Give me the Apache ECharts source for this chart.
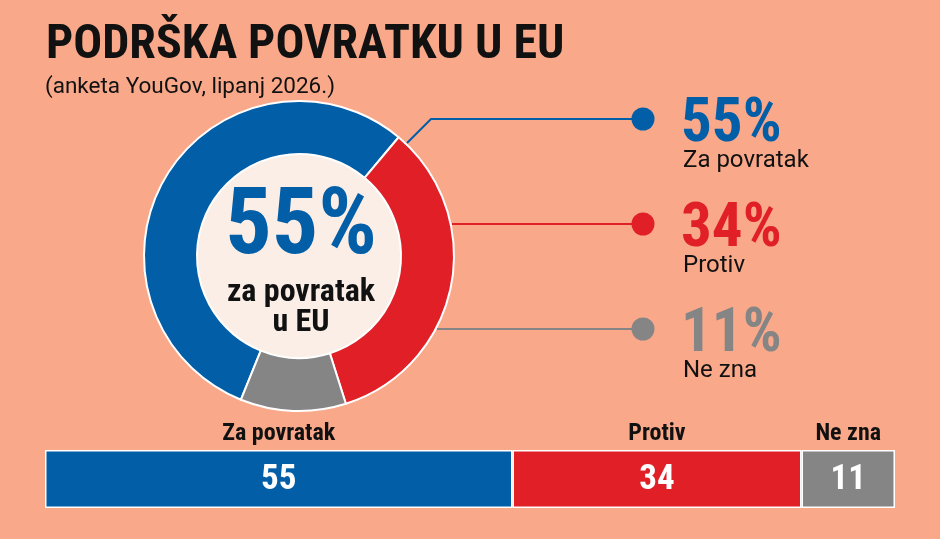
<!DOCTYPE html>
<html>
<head>
<meta charset="utf-8">
<script src="https://cdn.jsdelivr.net/npm/echarts@6/dist/echarts.min.js"></script>
<style>
  html, body { margin: 0; padding: 0; background: #F9A88A; }
  #chart { width: 940px; height: 539px; }
</style>
</head>
<body>
<div id="chart"></div>
<script>
const categories = ['Za povratak', 'Protiv', 'Ne zna']
const values = [55, 34, 11]
const colors = ['#035EA8', '#E01F27', '#858585']
const titleText = 'PODRŠKA POVRATKU U EU'
const subtitleText = '(anketa YouGov, lipanj 2026.)'
const centerLines = ['za povratak', 'u EU']

const narrow = "'Liberation Sans Narrow', 'Roboto Condensed', 'Roboto', sans-serif"
const plain = "'Roboto', 'Noto Sans', sans-serif"
const chart = echarts.init(document.getElementById('chart'))

// lijeva strana: kolut + pozadinski krug u sredini
const pieData = categories.map((name, i) => ({
  name: name,
  value: values[i],
  itemStyle: { color: colors[i] }
}))

// vodilice i oznake desno
const rows = [119, 224, 329]
const lineStarts = [[407, 143], [452, 224], [437, 329]]
const graphics = []
categories.forEach((name, i) => {
  const y = rows[i]
  const pts = i === 0
    ? [lineStarts[i], [431, y], [643, y]]
    : [lineStarts[i], [643, y]]
  graphics.push({
    type: 'polyline',
    shape: { points: pts },
    style: { stroke: colors[i], lineWidth: 2, fill: null },
    z: 10
  })
  graphics.push({
    type: 'circle',
    shape: { cx: 643, cy: y, r: 11.5 },
    style: { fill: colors[i] },
    z: 10
  })
  graphics.push({
    type: 'text',
    left: 681,
    top: y - 24,
    style: {
      text: values[i] + '%',
      fill: colors[i],
      font: 'bold 61px ' + narrow
    },
    z: 10
  })
  graphics.push({
    type: 'text',
    left: 683,
    top: y + 30,
    style: {
      text: name,
      fill: '#111',
      font: '24px ' + plain
    },
    z: 10
  })
})

graphics.push({
  type: 'text',
  left: 46,
  top: 22,
  style: { text: titleText, fill: '#111', font: 'bold 48px ' + narrow }
})
graphics.push({
  type: 'text',
  left: 45,
  top: 76,
  style: { text: subtitleText, fill: '#111', font: '22.5px ' + plain }
})
// tekst u sredini koluta
graphics.push({
  type: 'text',
  x: 301,
  y: 230,
  style: {
    text: values[0] + '%',
    fill: colors[0],
    font: 'bold 92px ' + narrow,
    align: 'center',
    verticalAlign: 'middle'
  },
  z: 10
})
centerLines.forEach((t, i) => {
  graphics.push({
    type: 'text',
    x: 301,
    y: 293 + i * 30,
    style: {
      text: t,
      fill: '#111',
      font: 'bold 32px ' + narrow,
      align: 'center',
      verticalAlign: 'middle'
    },
    z: 10
  })
})

const barSeries = categories.map((name, i) => ({
  name: name,
  type: 'bar',
  stack: 'total',
  barWidth: 58,
  data: [values[i]],
  itemStyle: { color: colors[i], borderColor: '#fff', borderWidth: 1.5 },
  label: {
    show: true,
    position: 'inside',
    offset: [0, -22],
    formatter: () => '{n|' + name + '}\n{v|' + values[i] + '}',
    rich: {
      n: { fontFamily: narrow, fontWeight: 'bold', fontSize: 24, color: '#111', lineHeight: 46, height: 46 },
      v: { fontFamily: narrow, fontWeight: 'bold', fontSize: 35, color: '#fff', lineHeight: 46, height: 46 }
    }
  }
}))

const option = {
  backgroundColor: '#F9A88A',
  animation: false,
  grid: { left: 45, right: 45, top: 450, height: 58 },
  xAxis: { type: 'value', min: 0, max: 100, show: false },
  yAxis: { type: 'category', data: ['anketa'], show: false },
  series: [
    {
      type: 'pie',
      silent: true,
      center: [299, 256],
      radius: [0, 102],
      label: { show: false },
      data: [{ value: 1, itemStyle: { color: '#FAEEE6' } }]
    },
    {
      type: 'pie',
      silent: true,
      center: [299, 256],
      radius: [102, 155],
      startAngle: 248,
      clockwise: true,
      label: { show: false },
      labelLine: { show: false },
      itemStyle: { borderColor: '#fff', borderWidth: 2 },
      data: pieData
    },
    ...barSeries
  ],
  graphic: graphics
}
chart.setOption(option)
</script>
</body>
</html>
